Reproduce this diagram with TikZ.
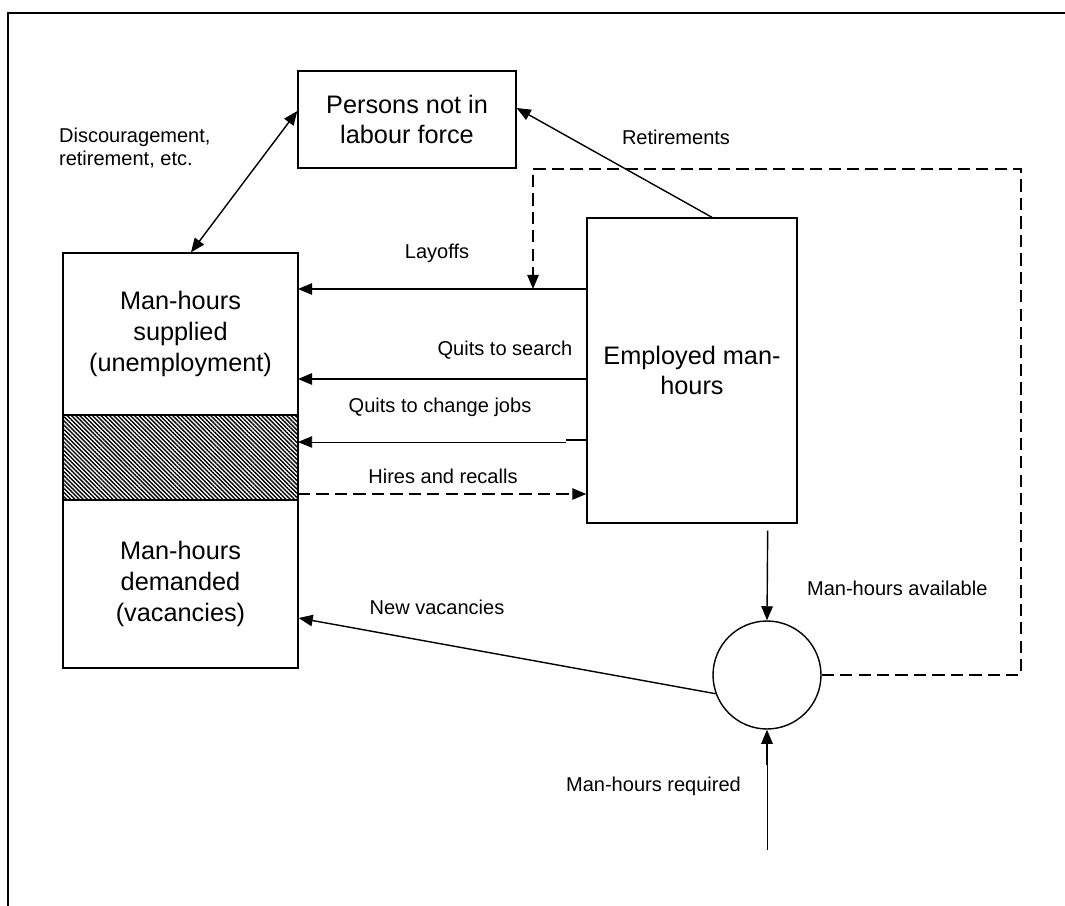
\documentclass[tikz,border=0pt]{standalone}
\usepackage{fontspec}
\setmainfont{Liberation Sans}
\usetikzlibrary{arrows.meta,patterns.meta,calc}

\tikzset{
  box/.style={draw, line width=0.8pt, inner sep=0pt, align=center,
    font=\fontsize{14.4}{17.5}\selectfont},
  lbl/.style={font=\fontsize{11.4}{13.5}\selectfont, inner sep=1pt, align=left},
  flow/.style={line width=0.8pt, -{Triangle[length=8pt,width=6.5pt]}},
  dashflow/.style={flow, dash pattern=on 7pt off 3.5pt},
}

\begin{document}
\begin{tikzpicture}[x=0.02cm, y=-0.02cm]
  \useasboundingbox (0,0) rectangle (1065,906);
  % open frame
  \draw[line width=0.8pt] (8,906) -- (8,13) -- (1065,13);

  % stocks
  \node[box, minimum width=4.36cm, minimum height=1.94cm] (persons) at (407,119.5)
    {Persons not in\\labour force};
  \node[box, minimum width=4.7cm, minimum height=3.24cm] (supply) at (180.5,334)
    {Man-hours\\supplied\\(unemployment)};
  \node[box, minimum width=4.7cm, minimum height=1.7cm,
    pattern={Lines[angle=-45, distance=1.7pt, line width=0.8pt]}] (overlap) at (180.5,457.5) {};
  \node[box, minimum width=4.7cm, minimum height=3.36cm] (demand) at (180.5,584)
    {Man-hours\\demanded\\(vacancies)};
  \node[box, minimum width=4.2cm, minimum height=6.1cm] (employed) at (692,370.5)
    {Employed man-\\hours};
  \node[draw, circle, line width=0.8pt, minimum size=2.16cm, inner sep=0pt] (pool) at (767,675) {};

  % end points on the left box
  \coordinate (layin) at (298,289);
  \coordinate (searchin) at (298,379);
  \coordinate (changein) at (298,442);
  \coordinate (hireout) at (298,494);
  \coordinate (layhit) at (533,289);
  \coordinate (loopcorner) at (1021,169);
  \coordinate (reqsrc) at (767,850);
  \coordinate (reqmid) at (767,765);
  \coordinate (changemid) at (566,442);
  \coordinate (changestep) at (566,440);

  % flows
  \draw[{Triangle[length=8pt,width=6.5pt]}-{Triangle[length=8pt,width=6.5pt]}, line width=0.8pt]
    ($(supply.north)+(10.5,0)$) -- ($(persons.west)+(0,-8.5)$);
  \draw[flow] ($(employed.north)+(20,0)$) -- ($(persons.east)+(0,-11.5)$);
  \draw[flow] (employed.west |- layin) -- (layin);
  \draw[flow] (employed.west |- searchin) -- (searchin);
  \draw[line width=0.8pt] (changestep) -- (employed.west |- changestep);
  \draw[flow, line width=0.4pt] (changemid) -- (changein);
  \draw[dashflow] (hireout) -- (employed.west |- hireout);
  \draw[flow] ($(employed.south east)+(-30,7)$) -- (pool.north);
  \draw[flow] (pool.200) -- ($(demand.east)+(0,34)$);
  \draw[line width=0.4pt] (reqsrc) -- (reqmid);
  \draw[flow] (reqmid) -- (pool.south);
  \draw[dashflow] (pool.east) -| (loopcorner) -| (layhit);

  % labels
  \node[lbl, anchor=west] (discl) at (57,148) {Discouragement,\\retirement, etc.};
  \node[lbl] (retl) at (676,137) {Retirements};
  \node[lbl] (layl) at (437,253) {Layoffs};
  \node[lbl] (searchl) at (505,350) {Quits to search};
  \node[lbl] (changel) at (440,407) {Quits to change jobs};
  \node[lbl] (hirel) at (443,476) {Hires and recalls};
  \node[lbl] (newvacl) at (437,607) {New vacancies};
  \node[lbl, anchor=west] (availl) at (805,588) {Man-hours available};
  \node[lbl, anchor=east] (reql) at (743,786) {Man-hours required};
\end{tikzpicture}
\end{document}
